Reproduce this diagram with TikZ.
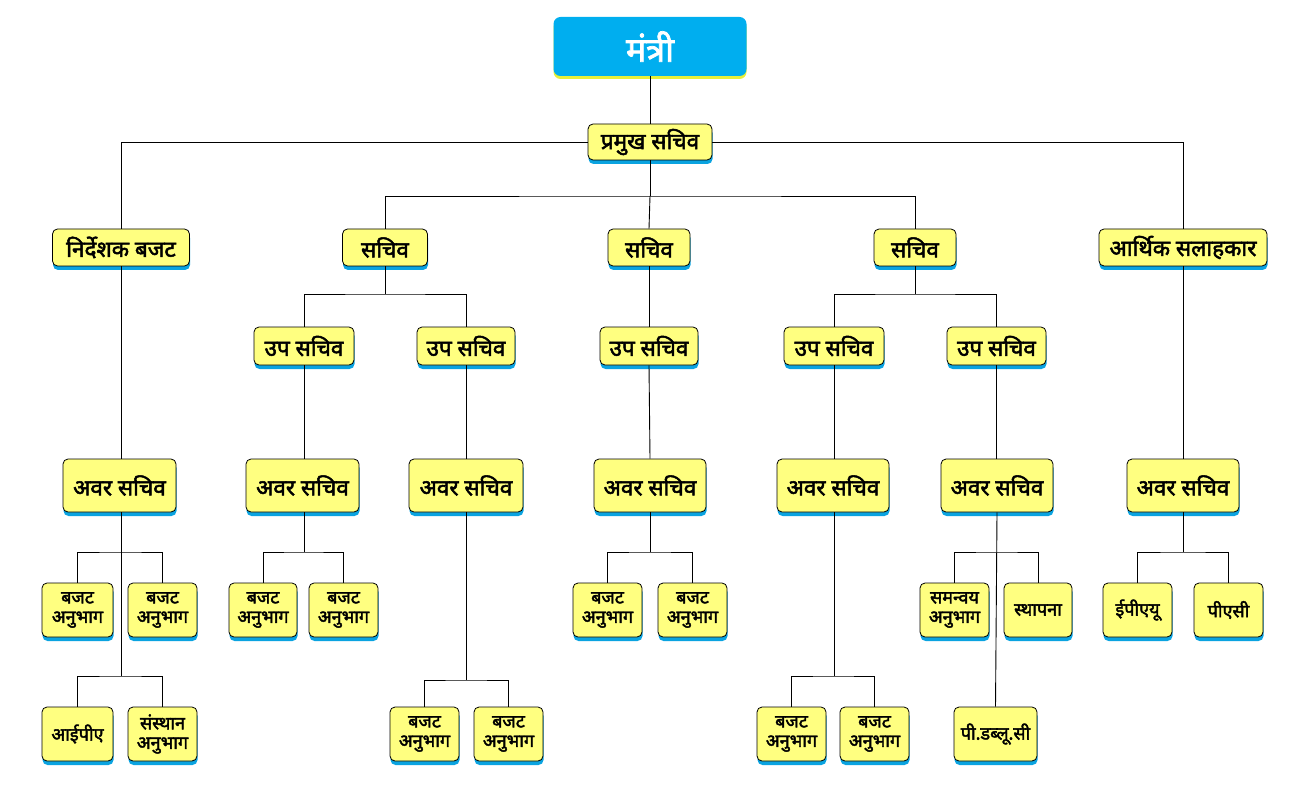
\documentclass[tikz,border=0pt]{standalone}
\usepackage{fontspec}
\setmainfont{Noto Sans}[Script=Devanagari, BoldFont={Noto Sans}, BoldFeatures={FakeBold=2.2}]
\usetikzlibrary{shadows}
\definecolor{boxyel}{HTML}{FFFF80}
\definecolor{shblue}{HTML}{0AA3E0}
\definecolor{topblue}{HTML}{00AEEF}
\definecolor{topsh}{HTML}{E6F03A}
\tikzset{
  yb/.style={draw=black, line width=0.8pt, fill=boxyel, rounded corners=5pt,
    align=center, inner sep=0pt, font=\bfseries,
    general shadow={fill=shblue, shadow yshift=-4pt, shadow xshift=0.5pt}},
  topbox/.style={fill=topblue, rounded corners=7pt, text=white, inner sep=0pt,
    font=\bfseries\fontsize{34}{36}\selectfont,
    general shadow={fill=topsh, shadow yshift=-3pt}},
  fbig/.style={font=\bfseries\fontsize{22.5}{24}\selectfont},
  fmid/.style={font=\bfseries\fontsize{22.5}{24}\selectfont},
  fsml/.style={font=\bfseries\fontsize{18}{19.5}\selectfont},
  ln/.style={draw=black, line width=0.9pt},
}
\newcommand{\bx}[6]{\node[yb, minimum width=#4pt, minimum height=#5pt, #6] (#1) at (#2,#3)}
\begin{document}
\begin{tikzpicture}[x=1pt,y=-1pt]
\useasboundingbox (0,0) rectangle (1300,799);
% top
\node[topbox, minimum width=193pt, minimum height=59pt] (min) at (650,46.5) {मंत्री};
\bx{pm}{650}{142}{124}{36}{fmid}{प्रमुख सचिव};
% level 2
\bx{nb}{121}{247.5}{137}{37}{fmid}{निर्देशक बजट};
\bx{sa}{385}{247.5}{85}{37}{fmid}{सचिव};
\bx{sb}{649}{247.5}{82}{37}{fmid}{सचिव};
\bx{sc}{915}{247.5}{82}{37}{fmid}{सचिव};
\bx{as}{1183}{247.5}{168}{37}{fmid}{आर्थिक सलाहकार};
% level 3
\bx{ua}{304}{346}{100}{38}{fmid}{उप सचिव};
\bx{ub}{466}{346}{98}{38}{fmid}{उप सचिव};
\bx{uc}{649}{346}{98}{38}{fmid}{उप सचिव};
\bx{ud}{834}{346}{100}{38}{fmid}{उप सचिव};
\bx{ue}{996.5}{346}{99}{38}{fmid}{उप सचिव};
% level 4
\bx{va}{119.5}{485.5}{113}{53}{fbig}{अवर सचिव};
\bx{vb}{302.5}{485.5}{113}{53}{fbig}{अवर सचिव};
\bx{vc}{466}{485.5}{114}{53}{fbig}{अवर सचिव};
\bx{vd}{650}{485.5}{112}{53}{fbig}{अवर सचिव};
\bx{ve}{833}{485.5}{112}{53}{fbig}{अवर सचिव};
\bx{vf}{997}{485.5}{112}{53}{fbig}{अवर सचिव};
\bx{vg}{1183}{485.5}{112}{53}{fbig}{अवर सचिव};
% level 5
\bx{a1}{77.5}{610}{71}{54}{fsml}{बजट\\अनुभाग};
\bx{a2}{162.5}{610}{69}{54}{fsml}{बजट\\अनुभाग};
\bx{b1}{263}{610}{68}{54}{fsml}{बजट\\अनुभाग};
\bx{b2}{343.5}{610}{69}{54}{fsml}{बजट\\अनुभाग};
\bx{d1}{607.5}{610}{69}{54}{fsml}{बजट\\अनुभाग};
\bx{d2}{692.5}{610}{69}{54}{fsml}{बजट\\अनुभाग};
\bx{f1}{954.5}{610}{69}{54}{fsml}{समन्वय\\अनुभाग};
\bx{f2}{1038}{610}{68}{54}{fsml}{स्थापना};
\bx{g1}{1137.5}{610}{69}{54}{fsml}{ईपीएयू};
\bx{g2}{1228.5}{610}{69}{54}{fsml}{पीएसी};
% level 6
\bx{a3}{77.5}{734}{71}{54}{fsml}{आईपीए};
\bx{a4}{162.5}{734}{69}{54}{fsml}{संस्थान\\अनुभाग};
\bx{c1}{424.5}{734}{69}{54}{fsml}{बजट\\अनुभाग};
\bx{c2}{508.5}{734}{69}{54}{fsml}{बजट\\अनुभाग};
\bx{e1}{791.5}{734}{69}{54}{fsml}{बजट\\अनुभाग};
\bx{e2}{874.5}{734}{69}{54}{fsml}{बजट\\अनुभाग};
\bx{f3}{995.5}{734}{83}{54}{fsml}{पी.डब्लू.सी};
% junction coordinates
\coordinate (j0) at (650,196);
\coordinate (ja) at (385,294);
\coordinate (jc) at (915,294);
\coordinate (jva) at (121,552);
\coordinate (jva2) at (121,676);
\coordinate (jvb) at (304,552);
\coordinate (jvc) at (466,680);
\coordinate (jvd) at (650,552);
\coordinate (jve) at (834,676);
\coordinate (jvf) at (997,552);
\coordinate (jvg) at (1183,552);
% connectors
\draw[ln] (min.south) -- (pm.north);
\draw[ln] (pm.west) -| (nb.north);
\draw[ln] (pm.east) -| (as.north);
\draw[ln] (pm.south) -- (j0);
\draw[ln] (sa.north) |- (j0) -| (sc.north);
\draw[ln] (j0) -- (sb.north);
\draw[ln] (sa.south) -- (ja);
\draw[ln] (ua.north) |- (ja) -| (ub.north);
\draw[ln] (sb.south) -- (uc.north);
\draw[ln] (sc.south) -- (jc);
\draw[ln] (ud.north) |- (jc) -| (ue.north);
\draw[ln] (nb.south) -- (nb.south |- va.north);
\draw[ln] (as.south) -- (as.south |- vg.north);
\draw[ln] (ua.south) -- (ua.south |- vb.north);
\draw[ln] (ub.south) -- (vc.north);
\draw[ln] (uc.south) -- (vd.north);
\draw[ln] (ud.south) -- (ud.south |- ve.north);
\draw[ln] (ue.south) -- (ue.south |- vf.north);
% level 5/6 buses
\draw[ln] (va.south -| jva) -- (jva2);
\draw[ln] (a1.north) |- (jva) -| (a2.north);
\draw[ln] (a3.north) |- (jva2) -| (a4.north);
\draw[ln] (vb.south -| jvb) -- (jvb);
\draw[ln] (b1.north) |- (jvb) -| (b2.north);
\draw[ln] (vc.south) -- (jvc);
\draw[ln] (c1.north) |- (jvc) -| (c2.north);
\draw[ln] (vd.south) -- (jvd);
\draw[ln] (d1.north) |- (jvd) -| (d2.north);
\draw[ln] (ve.south -| jve) -- (jve);
\draw[ln] (e1.north) |- (jve) -| (e2.north);
\draw[ln] (vf.south) -- (f3.north);
\draw[ln] (f1.north) |- (jvf) -| (f2.north);
\draw[ln] (vg.south) -- (jvg);
\draw[ln] (g1.north) |- (jvg) -| (g2.north);
\end{tikzpicture}
\end{document}
